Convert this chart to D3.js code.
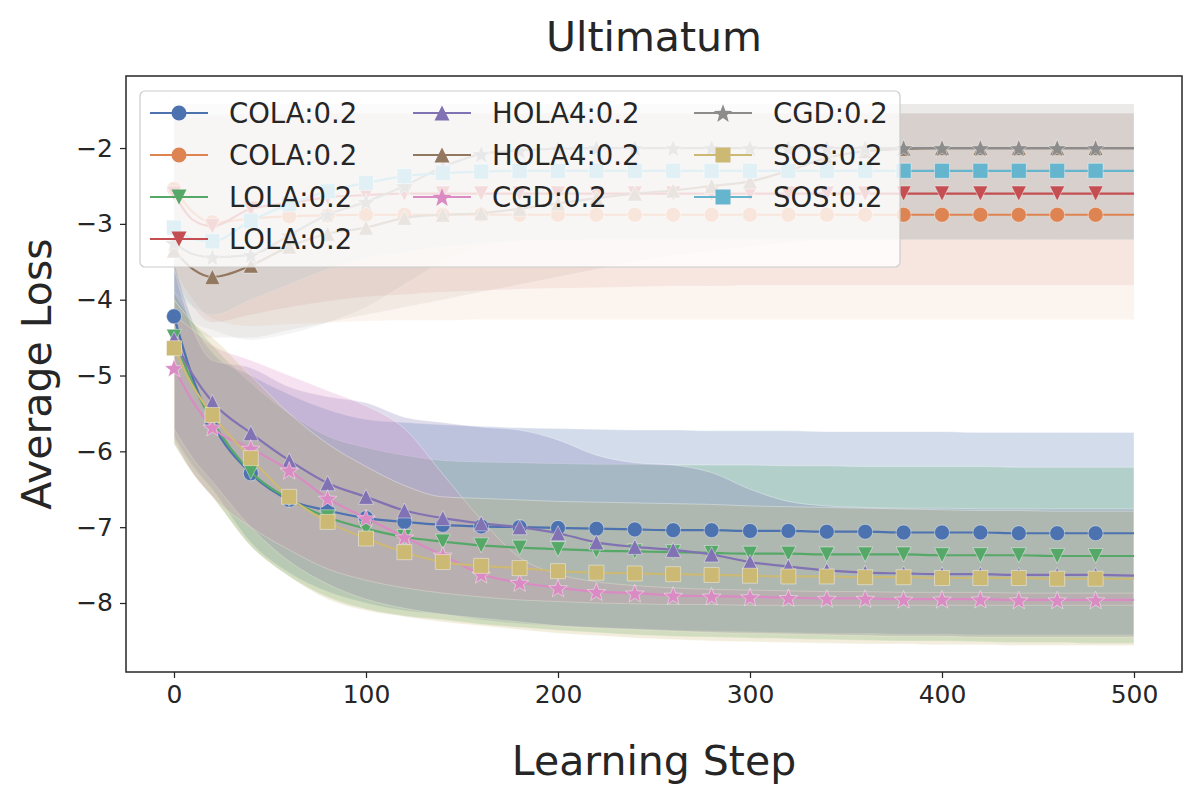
<!DOCTYPE html>
<html>
<head>
<meta charset="utf-8">
<script src="https://cdn.jsdelivr.net/npm/d3@7"></script>
<style>
  body { margin: 0; background: #fff; }
  text { font-family: "DejaVu Sans", sans-serif; fill: #262626; }
</style>
</head>
<body>
<svg id="chart" width="1200" height="800"></svg>
<script>
// learning steps the curves were read at (markers sit on every 20th step, not on 500)
var steps = [0, 10, 20, 40, 60, 80, 100, 120, 140, 160, 180, 200, 220, 240, 260, 280, 300, 320, 340, 360, 380, 400, 420, 440, 460, 480, 500];

var xTicks = [0, 100, 200, 300, 400, 500];
var yTicks = [-8, -7, -6, -5, -4, -3, -2];

// COLA (first) - blue
var cola1Mean = [-4.22, -5.05, -5.63, -6.29, -6.64, -6.78, -6.88, -6.93, -6.97, -6.99, -7.00, -7.01, -7.02, -7.03, -7.04, -7.04, -7.05, -7.05, -7.06, -7.06, -7.07, -7.07, -7.07, -7.08, -7.08, -7.08, -7.08];
var cola1High = [-3.5, -4.3, -4.7, -5.0, -5.25, -5.45, -5.58, -5.62, -5.65, -5.67, -5.69, -5.7, -5.71, -5.72, -5.72, -5.73, -5.73, -5.73, -5.74, -5.74, -5.74, -5.74, -5.75, -5.75, -5.75, -5.75, -5.75];
var cola1Low  = [-5.8, -6.2, -6.5, -7.2, -7.6, -7.85, -8.0, -8.1, -8.15, -8.22, -8.27, -8.3, -8.32, -8.34, -8.36, -8.37, -8.38, -8.39, -8.4, -8.4, -8.41, -8.41, -8.42, -8.42, -8.42, -8.42, -8.42];

// COLA (second) - orange
var cola2Mean = [-2.54, -2.85, -2.98, -2.93, -2.9, -2.89, -2.88, -2.88, -2.88, -2.88, -2.88, -2.88, -2.88, -2.88, -2.88, -2.88, -2.88, -2.88, -2.88, -2.88, -2.88, -2.88, -2.88, -2.88, -2.88, -2.88, -2.88];
var cola2High = [-1.5, -1.6, -1.6, -1.58, -1.56, -1.55, -1.54, -1.54, -1.54, -1.54, -1.54, -1.54, -1.54, -1.54, -1.54, -1.54, -1.54, -1.54, -1.54, -1.54, -1.54, -1.54, -1.54, -1.54, -1.54, -1.54, -1.54];
var cola2Low  = [-3.6, -4.0, -4.25, -4.35, -4.32, -4.3, -4.28, -4.27, -4.27, -4.26, -4.26, -4.26, -4.26, -4.26, -4.26, -4.26, -4.26, -4.26, -4.26, -4.26, -4.26, -4.26, -4.26, -4.26, -4.26, -4.26, -4.26];

// LOLA (first) - green
var lola1Mean = [-4.49, -5.12, -5.6, -6.27, -6.63, -6.87, -7.02, -7.13, -7.19, -7.24, -7.27, -7.29, -7.31, -7.32, -7.33, -7.34, -7.35, -7.35, -7.36, -7.36, -7.36, -7.37, -7.37, -7.37, -7.38, -7.38, -7.38];
var lola1High = [-3.9, -4.3, -4.6, -5.1, -5.5, -5.8, -5.95, -6.05, -6.12, -6.14, -6.15, -6.16, -6.17, -6.17, -6.18, -6.18, -6.18, -6.19, -6.19, -6.2, -6.2, -6.2, -6.2, -6.21, -6.21, -6.21, -6.21];
var lola1Low  = [-5.9, -6.3, -6.6, -7.25, -7.65, -7.92, -8.08, -8.17, -8.22, -8.28, -8.32, -8.36, -8.39, -8.42, -8.44, -8.45, -8.46, -8.47, -8.48, -8.49, -8.5, -8.5, -8.51, -8.52, -8.52, -8.53, -8.53];

// LOLA (second) - red
var lola2Mean = [-2.6, -2.95, -3.03, -2.8, -2.73, -2.65, -2.62, -2.6, -2.6, -2.6, -2.6, -2.6, -2.6, -2.6, -2.6, -2.6, -2.6, -2.6, -2.6, -2.6, -2.6, -2.6, -2.6, -2.6, -2.6, -2.6, -2.6];
var lola2High = [-1.45, -1.55, -1.56, -1.55, -1.55, -1.54, -1.54, -1.54, -1.54, -1.54, -1.54, -1.54, -1.54, -1.54, -1.54, -1.54, -1.54, -1.54, -1.54, -1.54, -1.54, -1.54, -1.54, -1.54, -1.54, -1.54, -1.54];
var lola2Low  = [-3.7, -4.1, -4.3, -4.2, -4.1, -4.02, -3.96, -3.93, -3.9, -3.88, -3.86, -3.85, -3.84, -3.83, -3.82, -3.82, -3.81, -3.81, -3.81, -3.81, -3.81, -3.81, -3.81, -3.81, -3.81, -3.81, -3.81];

// HOLA4 (first) - purple
var hola1Mean = [-4.52, -5.0, -5.35, -5.76, -6.12, -6.42, -6.6, -6.78, -6.88, -6.95, -7.0, -7.08, -7.2, -7.26, -7.3, -7.36, -7.46, -7.52, -7.57, -7.6, -7.61, -7.62, -7.62, -7.63, -7.63, -7.63, -7.64];
var hola1High = [-3.6, -4.4, -4.8, -4.9, -5.15, -5.28, -5.36, -5.55, -5.62, -5.68, -5.72, -5.85, -6.05, -6.15, -6.18, -6.28, -6.5, -6.66, -6.72, -6.74, -6.75, -6.75, -6.76, -6.76, -6.76, -6.76, -6.76];
var hola1Low  = [-5.7, -6.1, -6.4, -7.0, -7.45, -7.75, -7.95, -8.07, -8.15, -8.2, -8.25, -8.3, -8.33, -8.35, -8.37, -8.39, -8.4, -8.41, -8.42, -8.43, -8.44, -8.44, -8.45, -8.45, -8.45, -8.45, -8.45];

// HOLA4 (second) - brown
var hola2Mean = [-3.35, -3.6, -3.7, -3.55, -3.3, -3.13, -3.05, -2.92, -2.88, -2.86, -2.8, -2.73, -2.66, -2.6, -2.56, -2.5, -2.44, -2.3, -2.13, -2.04, -2.01, -2.0, -2.0, -2.0, -2.0, -2.0, -2.0];
var hola2High = [-1.4, -1.42, -1.42, -1.42, -1.42, -1.42, -1.42, -1.42, -1.42, -1.42, -1.42, -1.42, -1.42, -1.42, -1.42, -1.42, -1.42, -1.42, -1.42, -1.42, -1.42, -1.42, -1.42, -1.42, -1.42, -1.42, -1.42];
var hola2Low  = [-4.2, -4.4, -4.5, -4.5, -4.4, -4.3, -4.2, -4.1, -4.0, -3.9, -3.8, -3.7, -3.6, -3.5, -3.42, -3.36, -3.3, -3.25, -3.22, -3.21, -3.21, -3.21, -3.21, -3.21, -3.21, -3.21, -3.21];

// CGD (first) - pink
var cgd1Mean = [-4.9, -5.35, -5.68, -5.96, -6.25, -6.62, -6.88, -7.13, -7.37, -7.62, -7.73, -7.8, -7.85, -7.87, -7.9, -7.91, -7.92, -7.93, -7.94, -7.94, -7.95, -7.95, -7.95, -7.96, -7.96, -7.96, -7.96];
var cgd1High = [-4.2, -4.4, -4.6, -4.8, -5.0, -5.2, -5.4, -5.7, -6.3, -6.9, -7.4, -7.62, -7.72, -7.77, -7.8, -7.82, -7.83, -7.84, -7.85, -7.85, -7.86, -7.86, -7.86, -7.87, -7.87, -7.87, -7.87];
var cgd1Low  = [-5.85, -6.3, -6.6, -7.0, -7.3, -7.55, -7.7, -7.8, -7.87, -7.92, -7.96, -7.98, -8.0, -8.01, -8.02, -8.02, -8.03, -8.03, -8.03, -8.03, -8.03, -8.03, -8.03, -8.03, -8.03, -8.03, -8.03];

// CGD (second) - gray
var cgd2Mean = [-3.25, -3.4, -3.44, -3.41, -3.15, -2.88, -2.71, -2.5, -2.25, -2.08, -2.03, -2.01, -2.0, -2.0, -2.0, -2.0, -2.0, -2.0, -2.0, -2.0, -2.0, -2.0, -2.0, -2.0, -2.0, -2.0, -2.0];
var cgd2High = [-1.4, -1.42, -1.42, -1.42, -1.42, -1.42, -1.42, -1.42, -1.42, -1.42, -1.42, -1.42, -1.42, -1.42, -1.42, -1.42, -1.42, -1.42, -1.42, -1.42, -1.42, -1.42, -1.42, -1.42, -1.42, -1.42, -1.42];
var cgd2Low  = [-4.0, -4.3, -4.4, -4.53, -4.45, -4.3, -4.1, -3.8, -3.5, -3.3, -3.22, -3.21, -3.21, -3.21, -3.21, -3.21, -3.21, -3.21, -3.21, -3.21, -3.21, -3.21, -3.21, -3.21, -3.21, -3.21, -3.21];

// SOS (first) - olive
var sos1Mean = [-4.64, -5.15, -5.52, -6.09, -6.6, -6.93, -7.15, -7.33, -7.46, -7.51, -7.54, -7.58, -7.6, -7.61, -7.62, -7.63, -7.64, -7.65, -7.65, -7.66, -7.66, -7.67, -7.67, -7.67, -7.68, -7.68, -7.68];
var sos1High = [-4.0, -4.3, -4.5, -5.0, -5.5, -5.9, -6.2, -6.45, -6.6, -6.62, -6.64, -6.66, -6.67, -6.68, -6.69, -6.7, -6.72, -6.73, -6.74, -6.75, -6.76, -6.77, -6.78, -6.78, -6.79, -6.79, -6.79];
var sos1Low  = [-5.9, -6.3, -6.6, -7.25, -7.65, -7.95, -8.1, -8.18, -8.25, -8.3, -8.35, -8.4, -8.43, -8.46, -8.48, -8.5, -8.51, -8.52, -8.53, -8.54, -8.54, -8.55, -8.55, -8.56, -8.56, -8.56, -8.56];

// SOS (second) - cyan
var sos2Mean = [-3.05, -3.2, -3.23, -2.96, -2.74, -2.57, -2.46, -2.37, -2.33, -2.31, -2.3, -2.3, -2.3, -2.3, -2.3, -2.3, -2.3, -2.3, -2.3, -2.3, -2.3, -2.3, -2.3, -2.3, -2.3, -2.3, -2.3];
var sos2High = [-1.5, -1.55, -1.55, -1.55, -1.54, -1.54, -1.54, -1.54, -1.54, -1.54, -1.54, -1.54, -1.54, -1.54, -1.54, -1.54, -1.54, -1.54, -1.54, -1.54, -1.54, -1.54, -1.54, -1.54, -1.54, -1.54, -1.54];
var sos2Low  = [-3.9, -4.1, -4.2, -4.0, -3.8, -3.6, -3.45, -3.37, -3.3, -3.26, -3.23, -3.22, -3.21, -3.21, -3.21, -3.21, -3.21, -3.21, -3.21, -3.21, -3.21, -3.21, -3.21, -3.21, -3.21, -3.21, -3.21];

var labels  = ['COLA:0.2', 'COLA:0.2', 'LOLA:0.2', 'LOLA:0.2', 'HOLA4:0.2', 'HOLA4:0.2', 'CGD:0.2', 'CGD:0.2', 'SOS:0.2', 'SOS:0.2'];
var markers = ['o', 'o', 'v', 'v', '^', '^', '*', '*', 's', 's'];
// seaborn "deep"
var colors  = ['#4C72B0', '#DD8452', '#55A868', '#C44E52', '#8172B3', '#937860', '#DA8BC3', '#8C8C8C', '#CCB974', '#64B5CD'];

var means = [cola1Mean, cola2Mean, lola1Mean, lola2Mean, hola1Mean, hola2Mean, cgd1Mean, cgd2Mean, sos1Mean, sos2Mean];
var highs = [cola1High, cola2High, lola1High, lola2High, hola1High, hola2High, cgd1High, cgd2High, sos1High, sos2High];
var lows  = [cola1Low, cola2Low, lola1Low, lola2Low, hola1Low, hola2Low, cgd1Low, cgd2Low, sos1Low, sos2Low];

var series = labels.map(function(l, i) {
  return {
    label: l, marker: markers[i], color: colors[i],
    // the upper curves were drawn much fainter than the lower ones
    bandAlpha: (i % 2 == 0) ? 0.25 : 0.09,
    pts: steps.map(function(s, j) { return {x: s, m: means[i][j], lo: lows[i][j], hi: highs[i][j]}; })
  };
});

var box = {left: 126, right: 1182, top: 76, bottom: 672};
var ms = 15;

var svg = d3.select('#chart');

var xScale = d3.scaleLinear().domain([-25, 525]).range([box.left, box.right]);
var yScale = d3.scaleLinear().domain([-8.91, -1.05]).range([box.bottom, box.top]);

svg.append('defs').append('clipPath').attr('id', 'plotclip')
  .append('rect')
    .attr('x', box.left).attr('y', box.top)
    .attr('width', box.right - box.left).attr('height', box.bottom - box.top);

function markerPath(type) {
  var r = ms / 2;
  if (type == 'o') return d3.symbol(d3.symbolCircle, Math.PI * r * r)();
  if (type == 's') return 'M' + (-r) + ',' + (-r) + 'H' + r + 'V' + r + 'H' + (-r) + 'Z';
  if (type == '^') return 'M0,' + (-r) + 'L' + r + ',' + r + 'L' + (-r) + ',' + r + 'Z';
  if (type == 'v') return 'M0,' + r + 'L' + r + ',' + (-r) + 'L' + (-r) + ',' + (-r) + 'Z';
  // 5 point star, inner radius 0.382 of outer
  var p = [];
  var R = r * 1.3;
  for (var k = 0; k < 10; k++) {
    var rad = (k % 2 == 0) ? R : R * 0.42;
    var a = -Math.PI / 2 + k * Math.PI / 5;
    p.push([rad * Math.cos(a), rad * Math.sin(a) + 1]);
  }
  return 'M' + p.map(function(q) { return q[0].toFixed(2) + ',' + q[1].toFixed(2); }).join('L') + 'Z';
}

var plot = svg.append('g').attr('clip-path', 'url(#plotclip)');

// shaded bands first (they sit under every line)
var area = d3.area()
  .x(d => xScale(d.x))
  .y0(d => yScale(d.lo))
  .y1(d => yScale(d.hi))
  .curve(d3.curveMonotoneX);

plot.selectAll('path.band')
  .data(series)
  .enter()
  .append('path')
    .attr('class', 'band')
    .attr('d', d => area(d.pts))
    .attr('fill', d => d.color)
    .attr('fill-opacity', d => d.bandAlpha)
    .attr('stroke', '#fff')
    .attr('stroke-opacity', d => d.bandAlpha * 1.4)
    .attr('stroke-width', 1);

var line = d3.line()
  .x(d => xScale(d.x))
  .y(d => yScale(d.m))
  .curve(d3.curveMonotoneX);

series.forEach(function(s) {
  var g = plot.append('g');
  g.append('path')
    .attr('d', line(s.pts))
    .attr('fill', 'none')
    .attr('stroke', s.color)
    .attr('stroke-width', 2.2);
  g.selectAll('path.mk')
    .data(s.pts.filter(d => d.x % 20 == 0 && d.x < 500))
    .enter()
    .append('path')
      .attr('class', 'mk')
      .attr('d', markerPath(s.marker))
      .attr('transform', d => 'translate(' + xScale(d.x) + ',' + yScale(d.m) + ')')
      .attr('fill', s.color)
      .attr('stroke', '#fff')
      .attr('stroke-opacity', 0.6)
      .attr('stroke-width', 0.7);
});

// axes
var xAxis = d3.axisBottom(xScale).tickValues(xTicks).tickSize(6).tickPadding(7).tickFormat(d3.format('d'));
var yAxis = d3.axisLeft(yScale).tickValues(yTicks).tickSize(6).tickPadding(7).tickFormat(d => d3.format('d')(d).replace('-', '\u2212'));

var gx = svg.append('g')
  .attr('transform', 'translate(0,' + box.bottom + ')')
  .call(xAxis);
var gy = svg.append('g')
  .attr('transform', 'translate(' + box.left + ',0)')
  .call(yAxis);

[gx, gy].forEach(function(g) {
  g.select('.domain').remove();
  g.selectAll('.tick line').attr('stroke', '#262626').attr('stroke-width', 1.25);
  g.selectAll('.tick text')
    .style('font-family', '"DejaVu Sans", sans-serif')
    .style('font-size', '25px')
    .attr('fill', '#262626');
});

svg.append('rect')
  .attr('x', box.left).attr('y', box.top)
  .attr('width', box.right - box.left).attr('height', box.bottom - box.top)
  .attr('fill', 'none')
  .attr('stroke', '#262626')
  .attr('stroke-width', 1.5);

// legend: 3 columns, filled column by column (4,3,3)
var legend = svg.append('g');
legend.append('rect')
  .attr('x', 140).attr('y', 91)
  .attr('width', 760).attr('height', 176)
  .attr('rx', 5)
  .attr('fill', '#fff')
  .attr('fill-opacity', 0.8)
  .attr('stroke', '#cccccc')
  .attr('stroke-width', 1.2);

var colX = [150, 413, 694];
var rowY = [113, 155, 197, 239];
var colOf = [0, 0, 0, 0, 1, 1, 1, 2, 2, 2];
var rowOf = [0, 1, 2, 3, 0, 1, 2, 0, 1, 2];

series.forEach(function(s, i) {
  var x0 = colX[colOf[i]], y0 = rowY[rowOf[i]];
  var item = legend.append('g');
  item.append('line')
    .attr('x1', x0).attr('x2', x0 + 58)
    .attr('y1', y0).attr('y2', y0)
    .attr('stroke', s.color).attr('stroke-width', 2.2);
  item.append('path')
    .attr('d', markerPath(s.marker))
    .attr('transform', 'translate(' + (x0 + 29) + ',' + y0 + ')')
    .attr('fill', s.color);
  item.append('text')
    .attr('x', x0 + 79)
    .attr('y', y0 + 10)
    .style('font-size', '27.5px')
    .text(s.label);
});

// title and axis labels
svg.append('text')
  .attr('x', (box.left + box.right) / 2)
  .attr('y', 51)
  .attr('text-anchor', 'middle')
  .style('font-size', '41px')
  .text('Ultimatum');

svg.append('text')
  .attr('x', (box.left + box.right) / 2)
  .attr('y', 775)
  .attr('text-anchor', 'middle')
  .style('font-size', '41px')
  .text('Learning Step');

svg.append('text')
  .attr('transform', 'translate(51,' + ((box.top + box.bottom) / 2) + ') rotate(-90)')
  .attr('text-anchor', 'middle')
  .style('font-size', '41px')
  .text('Average Loss');
</script>
</body>
</html>
